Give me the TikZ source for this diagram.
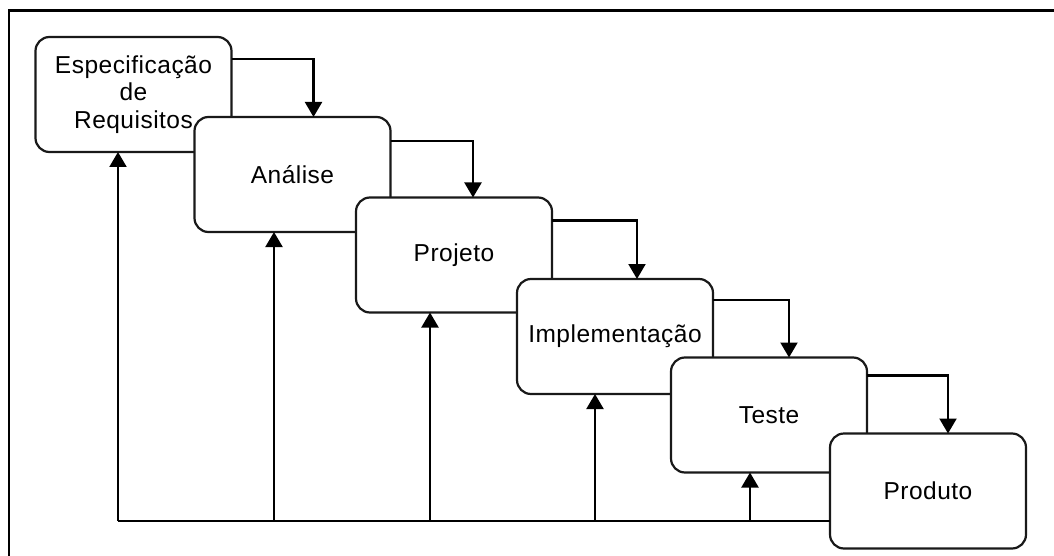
\documentclass[tikz,border=0pt]{standalone}
\usepackage{fontspec}
\setmainfont[LetterSpace=2.0]{Liberation Sans}
\usetikzlibrary{arrows.meta,calc}
\begin{document}
\begin{tikzpicture}[x=1pt,y=-1pt,
  phase/.style={draw=black!90, line width=2.2pt, fill=white, rounded corners=14pt,
    minimum width=196pt, minimum height=115pt, inner sep=0pt, outer sep=0pt,
    font=\fontsize{24.5}{27.5}\selectfont, align=center},
  conn/.style={draw=black, line width=2.1pt, -{Triangle[width=17pt,length=15pt]}},
  plain/.style={draw=black, line width=2.1pt}]
\useasboundingbox (0,0) rectangle (1054,556);
% outer frame (cropped)
\draw[black, line width=2.2pt] (9,556) -- (9,10.5) -- (1054,10.5);
% phases
\node[phase] (b1) at (133.5,94.5) {Especificação\\de\\Requisitos};
\node[phase] (b2) at (292.5,174.5) {Análise};
\node[phase] (b3) at (454,255) {Projeto};
\node[phase] (b4) at (615,336.5) {Implementação};
\node[phase] (b5) at (769,415) {Teste};
\node[phase] (b6) at (928,491) {Produto};
% forward arrows
\coordinate (s1) at ($(b1.north east)+(0,22)$);
\coordinate (s2) at ($(b2.north east)+(0,24)$);
\coordinate (s3) at ($(b3.north east)+(0,23)$);
\coordinate (s4) at ($(b4.north east)+(0,21)$);
\coordinate (s5) at ($(b5.north east)+(0,18)$);
\coordinate (t2) at ($(b2.north west)+(119,0)$);
\coordinate (t3) at ($(b3.north west)+(117,0)$);
\coordinate (t4) at ($(b4.north west)+(120,0)$);
\coordinate (t5) at ($(b5.north west)+(118,0)$);
\coordinate (t6) at ($(b6.north west)+(118,0)$);
\draw[conn] (s1) -| (t2);
\draw[conn] (s2) -| (t3);
\draw[conn] (s3) -| (t4);
\draw[conn] (s4) -| (t5);
\draw[conn] (s5) -| (t6);
% feedback
\coordinate (f1) at (118,521);
\coordinate (f2) at (274,521);
\coordinate (f3) at (430,521);
\coordinate (f4) at (595,521);
\coordinate (f5) at (750,521);
\draw[plain] (f1) -- (b6.west |- f1);
\draw[conn] (f1) -- (f1 |- b1.south);
\draw[conn] (f2) -- (f2 |- b2.south);
\draw[conn] (f3) -- (f3 |- b3.south);
\draw[conn] (f4) -- (f4 |- b4.south);
\draw[conn] (f5) -- (f5 |- b5.south);
\end{tikzpicture}
\end{document}
